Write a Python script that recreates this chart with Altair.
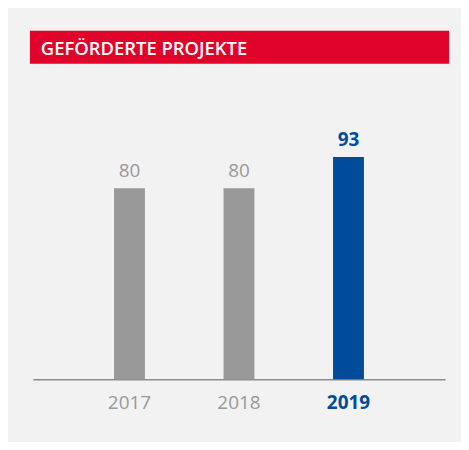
import altair as alt
import pandas as pd

years = ["2017", "2018", "2019"]
projects = [80, 80, 93]
highlight_year = "2019"
title_text = "GEFÖRDERTE PROJEKTE"

GRAY = "#999999"
BLUE = "#004C9B"
RED = "#E0042B"
BG = "#F2F2F2"
FONT = "Open Sans"

df = pd.DataFrame({"year": years, "value": projects})
base = alt.Chart(df)

x_enc = alt.X(
    "year:N",
    sort=years,
    title=None,
    scale=alt.Scale(paddingInner=0.718, paddingOuter=0.741),
    axis=alt.Axis(
        labelAngle=0,
        ticks=False,
        tickSize=0,
        domainColor="#8C8C8C",
        domainWidth=1.5,
        labelFont=FONT,
        labelFontSize=19,
        labelPadding=14,
        labelColor={"expr": f"datum.label == '{highlight_year}' ? '{BLUE}' : '{GRAY}'"},
        labelFontWeight={"expr": f"datum.label == '{highlight_year}' ? 'bold' : 'normal'"},
    ),
)
y_enc = alt.Y("value:Q", scale=alt.Scale(domain=[0, 130]), axis=None)

bars = base.mark_bar().encode(
    x=x_enc,
    y=y_enc,
    color=alt.condition(alt.datum.year == highlight_year, alt.value(BLUE), alt.value(GRAY)),
)

labels_normal = base.transform_filter(alt.datum.year != highlight_year).mark_text(
    font=FONT, fontSize=19, baseline="alphabetic", dy=-11, color=GRAY
).encode(x=alt.X("year:N", sort=years), y=y_enc, text="value:Q")

labels_hi = base.transform_filter(alt.datum.year == highlight_year).mark_text(
    font=FONT, fontSize=19, fontWeight="bold", baseline="alphabetic", dy=-11, color=BLUE
).encode(x=alt.X("year:N", sort=years), y=y_enc, text="value:Q")

one = alt.Data(values=[{"t": title_text}])
banner = alt.Chart(one).mark_rect(color=RED).encode(
    x=alt.value(-3), x2=alt.value(418), y=alt.value(-38), y2=alt.value(-5)
)
banner_text = alt.Chart(one).mark_text(
    font=FONT, fontSize=18.5, fontWeight=600, color="white", align="left", baseline="alphabetic"
).encode(x=alt.value(8), y=alt.value(-14), text="t:N")

chart = (
    alt.layer(bars, labels_normal, labels_hi, banner, banner_text)
    .properties(
        width=414,
        height=312,
        background=BG,
        padding={"left": 25, "top": 60, "right": 16, "bottom": 62},
        autosize=alt.AutoSizeParams(type="none"),
    )
    .configure_view(stroke=None)
)

chart.save("out.html", embed_options={"renderer": "svg", "actions": False})
